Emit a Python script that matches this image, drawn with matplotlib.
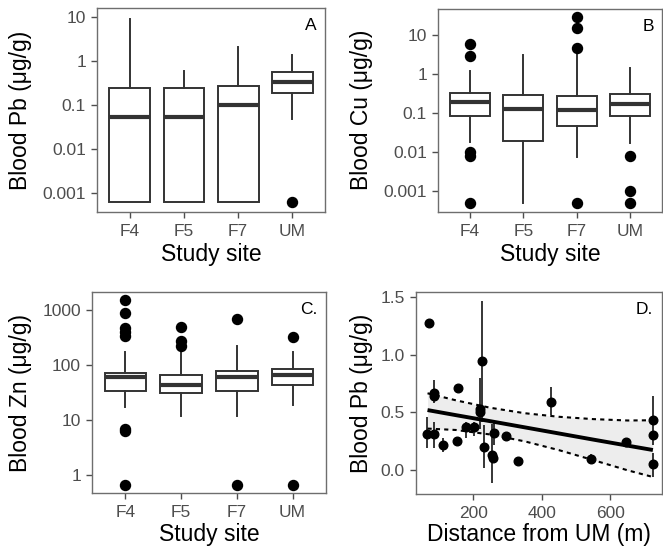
import numpy as np
import matplotlib
matplotlib.use("Agg")
import matplotlib.pyplot as plt

plt.rcParams['font.family'] = ['Liberation Sans', 'DejaVu Sans']

# ---------------- data ----------------
sites = ['F4', 'F5', 'F7', 'UM']

# Panel A: Blood Pb (ug/g)
pb_q1 = [0.00063, 0.00063, 0.00063, 0.19]
pb_med = [0.053, 0.053, 0.10, 0.34]
pb_q3 = [0.24, 0.25, 0.27, 0.57]
pb_whislo = [0.00063, 0.00063, 0.00063, 0.047]
pb_whishi = [9.0, 0.59, 2.1, 1.4]
pb_fliers = [[], [], [], [0.00063]]

# Panel B: Blood Cu (ug/g)
cu_q1 = [0.083, 0.019, 0.045, 0.083]
cu_med = [0.19, 0.13, 0.12, 0.17]
cu_q3 = [0.33, 0.29, 0.28, 0.30]
cu_whislo = [0.018, 0.0005, 0.0073, 0.017]
cu_whishi = [1.2, 3.1, 3.2, 1.4]
cu_fliers = [[5.8, 2.9, 0.0102, 0.0079, 0.0005], [],
             [29, 14.8, 4.7, 0.0005], [0.008, 0.001, 0.0005]]

# Panel C: Blood Zn (ug/g)
zn_q1 = [33, 31, 34, 44]
zn_med = [61, 44, 60, 65]
zn_q3 = [71, 65, 78, 83]
zn_whislo = [17, 11.8, 11.8, 19]
zn_whishi = [175, 205, 220, 170]
zn_fliers = [[1500, 890, 465, 400, 340, 7.0, 6.3, 0.65], [490, 275, 225],
             [700, 0.65], [320, 0.65]]

# Panel D: Blood Pb vs distance from UM
dist = [72, 65, 86.6, 86.6, 86.6, 111, 155, 152.6, 179, 203, 219.5, 221, 227,
        232, 254, 257, 261, 297, 332, 427, 543, 645, 724, 724, 724]
pb_mean = [1.27, 0.31, 0.665, 0.64, 0.31, 0.22, 0.708, 0.256, 0.377, 0.372,
           0.527, 0.50, 0.94, 0.204, 0.132, 0.11, 0.32, 0.30, 0.083, 0.59,
           0.10, 0.24, 0.43, 0.305, 0.05]
pb_lo = [1.27, 0.19, 0.58, 0.64, 0.19, 0.16, 0.708, 0.256, 0.28, 0.30,
         0.36, 0.50, 0.42, 0.02, -0.11, 0.11, 0.22, 0.30, 0.083, 0.48,
         0.07, 0.22, 0.22, 0.305, -0.055]
pb_hi = [1.27, 0.46, 0.78, 0.64, 0.42, 0.28, 0.708, 0.256, 0.42, 0.42,
         0.80, 0.50, 1.46, 0.39, 0.40, 0.11, 0.43, 0.30, 0.083, 0.72,
         0.14, 0.26, 0.64, 0.305, 0.15]

# regression line and confidence band
fit_x = [67, 150, 250, 350, 450, 550, 650, 724]
fit_y = [0.520, 0.476, 0.424, 0.371, 0.318, 0.265, 0.213, 0.175]
ci_hi = [0.665, 0.604, 0.540, 0.493, 0.462, 0.442, 0.430, 0.432]
ci_lo = [0.360, 0.348, 0.309, 0.250, 0.174, 0.088, 0.000, -0.058]

# ---------------- figure ----------------
W, H = 663, 553
fig = plt.figure(figsize=(W / 100, H / 100), dpi=100)

def add_ax(l, t, r, b):
    return fig.add_axes([l / W, 1 - b / H, (r - l) / W, (b - t) / H])

BORDER = '#6e6e6e'
BOXC = '#333333'
TICKC = '#4d4d4d'

def style(ax):
    for s in ax.spines.values():
        s.set_color(BORDER)
        s.set_linewidth(1.0)
    ax.tick_params(axis='both', which='major', length=4.0, width=1.0,
                   color=TICKC, labelcolor=TICKC, labelsize=12.5, pad=4.0)
    ax.tick_params(axis='x', pad=4.5)
    ax.tick_params(which='minor', length=0)

def boxpanel(ax, q1, med, q3, wlo, whi, fl, ylim, yticks, ylabels):
    stats = []
    for i in range(len(sites)):
        stats.append(dict(med=med[i], q1=q1[i], q3=q3[i], whislo=wlo[i],
                          whishi=whi[i], fliers=fl[i], label=sites[i]))
    ax.set_yscale('log')
    ax.bxp(stats, positions=np.arange(1, len(sites) + 1), widths=0.75,
           showcaps=False, patch_artist=True,
           boxprops=dict(facecolor='white', edgecolor=BOXC, linewidth=1.4),
           whiskerprops=dict(color=BOXC, linewidth=1.4),
           medianprops=dict(color=BOXC, linewidth=3.0, solid_capstyle='butt'),
           flierprops=dict(marker='o', markerfacecolor='black',
                           markeredgecolor='black', markersize=7.2))
    ax.set_xlim(0.4, len(sites) + 0.6)
    ax.set_ylim(*ylim)
    ax.set_yticks(yticks)
    ax.set_yticklabels(ylabels)
    ax.yaxis.set_minor_locator(matplotlib.ticker.NullLocator())
    ax.set_xticks(np.arange(1, len(sites) + 1))
    ax.set_xticklabels(sites)
    style(ax)

LAB = 16.5

# Panel A
axA = add_ax(97, 8, 325, 212)
boxpanel(axA, pb_q1, pb_med, pb_q3, pb_whislo, pb_whishi, pb_fliers,
         (10 ** -3.43, 10 ** 1.205), [0.001, 0.01, 0.1, 1, 10],
         ['0.001', '0.01', '0.1', '1', '10'])
axA.text(0.965, 0.915, 'A', transform=axA.transAxes, ha='right', va='center',
         fontsize=12.5, color='black')
fig.text(21 / W, 1 - 110 / H, 'Blood Pb (μg/g)', rotation=90, ha='center',
         va='center', fontsize=LAB)
fig.text(211 / W, 1 - 254 / H, 'Study site', ha='center', va='center',
         fontsize=LAB)

# Panel B
axB = add_ax(438, 9, 662, 212)
boxpanel(axB, cu_q1, cu_med, cu_q3, cu_whislo, cu_whishi, cu_fliers,
         (10 ** -3.54, 10 ** 1.667), [0.001, 0.01, 0.1, 1, 10],
         ['0.001', '0.01', '0.1', '1', '10'])
axB.text(0.965, 0.915, 'B', transform=axB.transAxes, ha='right', va='center',
         fontsize=12.5, color='black')
fig.text(362 / W, 1 - 110 / H, 'Blood Cu (μg/g)', rotation=90, ha='center',
         va='center', fontsize=LAB)
fig.text(550 / W, 1 - 254 / H, 'Study site', ha='center', va='center',
         fontsize=LAB)

# Panel C
axC = add_ax(92, 292, 326, 493)
boxpanel(axC, zn_q1, zn_med, zn_q3, zn_whislo, zn_whishi, zn_fliers,
         (10 ** -0.327, 10 ** 3.327), [1, 10, 100, 1000],
         ['1', '10', '100', '1000'])
axC.text(0.965, 0.915, 'C.', transform=axC.transAxes, ha='right', va='center',
         fontsize=12.5, color='black')
fig.text(21 / W, 1 - 392.5 / H, 'Blood Zn (μg/g)', rotation=90, ha='center',
         va='center', fontsize=LAB)
fig.text(209 / W, 1 - 534 / H, 'Study site', ha='center', va='center',
         fontsize=LAB)

# Panel D
axD = add_ax(416, 292, 662, 494)
axD.fill_between(fit_x, ci_lo, ci_hi, color='#ededed', linewidth=0, zorder=1)
axD.plot(fit_x, ci_hi, color='black', linewidth=1.5, dashes=(2.0, 2.0), zorder=2)
axD.plot(fit_x, ci_lo, color='black', linewidth=1.5, dashes=(2.0, 2.0), zorder=2)
axD.vlines(dist, pb_lo, pb_hi, color='black', linewidth=1.1, zorder=3)
axD.plot(dist, pb_mean, 'o', color='black', markersize=6.2, zorder=4)
axD.plot(fit_x, fit_y, color='black', linewidth=2.8, zorder=5,
         solid_capstyle='butt')
axD.set_xlim(33.4, 750.6)
axD.set_ylim(-0.205, 1.54)
axD.set_xticks([200, 400, 600])
axD.set_xticklabels(['200', '400', '600'])
axD.set_yticks([0.0, 0.5, 1.0, 1.5])
axD.set_yticklabels(['0.0', '0.5', '1.0', '1.5'])
style(axD)
axD.text(0.965, 0.915, 'D.', transform=axD.transAxes, ha='right', va='center',
         fontsize=12.5, color='black')
fig.text(362 / W, 1 - 393 / H, 'Blood Pb (μg/g)', rotation=90, ha='center',
         va='center', fontsize=LAB)
fig.text(539 / W, 1 - 534 / H, 'Distance from UM (m)', ha='center',
         va='center', fontsize=LAB)

fig.savefig('out.png', dpi=100)
